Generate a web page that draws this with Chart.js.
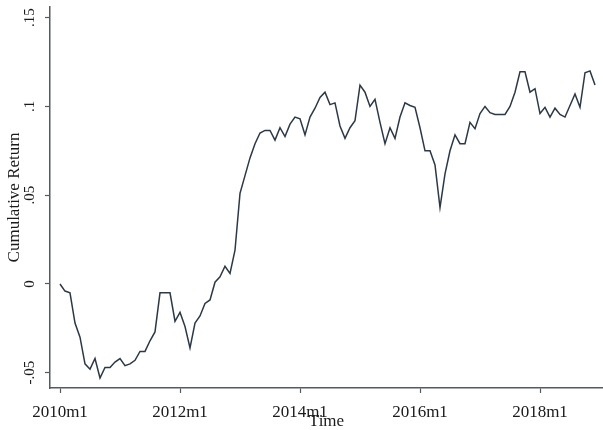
<!DOCTYPE html>
<html>
<head>
<meta charset="utf-8">
<script src="https://cdn.jsdelivr.net/npm/chart.js@4"></script>
<style>
  html, body { margin: 0; padding: 0; background: #fff; }
</style>
</head>
<body>
<canvas id="chart" width="603" height="430"></canvas>
<script>
// cumulative return, one value per month from 2010m1 to 2018m12
const cumReturn = [
  0.000, -0.004, -0.005, -0.022, -0.030, -0.045, -0.048, -0.042, -0.053, -0.047, -0.047, -0.044,
  -0.042, -0.046, -0.045, -0.043, -0.038, -0.038, -0.032, -0.027, -0.005, -0.005, -0.005, -0.021,
  -0.016, -0.024, -0.036, -0.022, -0.018, -0.011, -0.009, 0.001, 0.004, 0.010, 0.006, 0.019,
  0.051, 0.061, 0.071, 0.079, 0.085, 0.0865, 0.0865, 0.081, 0.088, 0.083, 0.090, 0.094,
  0.093, 0.084, 0.094, 0.099, 0.105, 0.108, 0.101, 0.102, 0.089, 0.082, 0.088, 0.092,
  0.112, 0.108, 0.100, 0.104, 0.091, 0.079, 0.088, 0.082, 0.094, 0.102, 0.1005, 0.0995,
  0.088, 0.075, 0.075, 0.067, 0.043, 0.062, 0.075, 0.084, 0.079, 0.079, 0.091, 0.0875,
  0.096, 0.100, 0.0965, 0.0955, 0.0955, 0.0955, 0.100, 0.108, 0.1195, 0.1195, 0.108, 0.110,
  0.096, 0.0995, 0.094, 0.099, 0.0955, 0.094, 0.1005, 0.107, 0.0995, 0.119, 0.120, 0.112
];

const xTickValues = [0, 24, 48, 72, 96];
const xTickLabels = ["2010m1", "2012m1", "2014m1", "2016m1", "2018m1"];
const yTickValues = [-0.05, 0, 0.05, 0.1, 0.15];
const yTickLabels = ["-.05", "0", ".05", ".1", ".15"];

const serif = "'Liberation Serif', 'DejaVu Serif', serif";
const axisColor = "#555a5f";

const points = cumReturn.map((v, i) => ({ x: i, y: v }));

new Chart(document.getElementById("chart").getContext("2d"), {
  type: "line",
  data: {
    datasets: [{
      data: points,
      borderColor: "#2c3846",
      borderWidth: 1.5,
      pointRadius: 0,
      tension: 0,
      fill: false
    }]
  },
  options: {
    responsive: false,
    devicePixelRatio: 1,
    animation: false,
    layout: { padding: { top: 7, right: 0, bottom: 0, left: 0 } },
    plugins: {
      legend: { display: false },
      tooltip: { enabled: false }
    },
    scales: {
      x: {
        type: "linear",
        min: -2,
        max: 108.6,
        afterBuildTicks: scale => {
          scale.ticks = xTickValues.map(v => ({ value: v }));
        },
        afterFit: scale => {
          scale.height = 42;
          scale.paddingLeft = 0;
          scale.paddingRight = 0;
        },
        ticks: {
          autoSkip: false,
          maxRotation: 0,
          padding: 9,
          color: "#1a1a1a",
          font: { family: serif, size: 17 },
          callback: (value) => xTickLabels[xTickValues.indexOf(value)]
        },
        grid: {
          drawOnChartArea: false,
          tickLength: 5,
          tickWidth: 1.2,
          tickColor: axisColor
        },
        border: { color: axisColor, width: 1.5 },
        title: {
          display: true,
          text: "Time",
          color: "#1a1a1a",
          font: { family: serif, size: 17, lineHeight: 1 },
          padding: { top: 0, bottom: 0 }
        }
      },
      y: {
        type: "linear",
        min: -0.0586,
        max: 0.156,
        afterBuildTicks: scale => {
          scale.ticks = yTickValues.map(v => ({ value: v }));
        },
        afterFit: scale => {
          scale.width = 50;
          scale.paddingTop = 0;
          scale.paddingBottom = 0;
        },
        ticks: {
          autoSkip: false,
          minRotation: 90,
          maxRotation: 90,
          crossAlign: "center",
          padding: 3,
          color: "#1a1a1a",
          font: { family: serif, size: 15 },
          callback: (value) => yTickLabels[yTickValues.indexOf(value)]
        },
        grid: {
          drawOnChartArea: false,
          tickLength: 5,
          tickWidth: 1.2,
          tickColor: axisColor
        },
        border: { color: axisColor, width: 1.5 },
        title: {
          display: true,
          text: "Cumulative Return",
          color: "#1a1a1a",
          font: { family: serif, size: 17 },
          padding: { top: 4, bottom: 0 }
        }
      }
    }
  }
});
</script>
</body>
</html>
